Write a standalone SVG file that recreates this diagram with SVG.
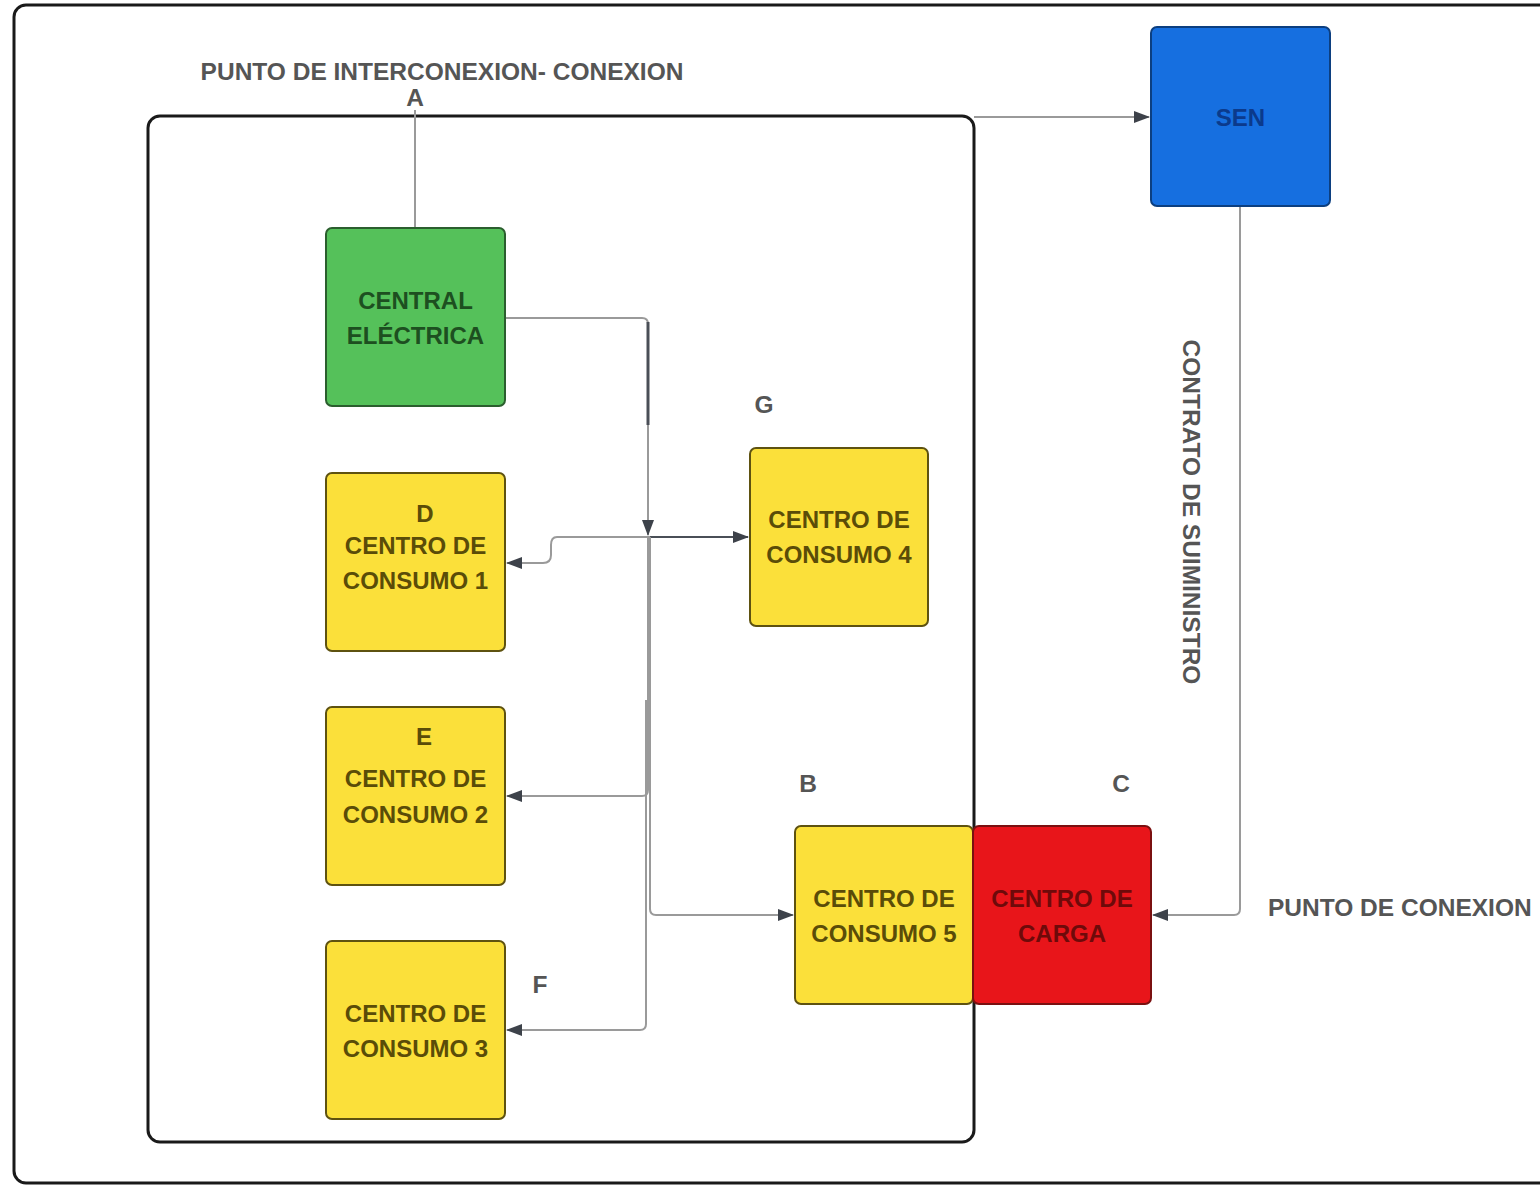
<svg xmlns="http://www.w3.org/2000/svg" width="1540" height="1186" viewBox="0 0 1540 1186">
  <defs>
    <style>
      .frame { fill: none; stroke: #1a1a1a; stroke-width: 3; }
      .node rect { stroke-width: 2; }
      .node text { font-family: "Liberation Sans", Arial, sans-serif; font-weight: bold; font-size: 24px; text-anchor: middle; }
      .yellow rect { fill: #fbe03a; stroke: #5e5210; }
      .yellow text { fill: #5a4c08; }
      .label { font-family: "Liberation Sans", Arial, sans-serif; font-weight: bold; font-size: 24.5px; fill: #555; }
      .conn { fill: none; stroke: #9a9a9a; stroke-width: 2; }
      .conn.dark { stroke: #4a4f57; }
    </style>
    <marker id="arrowL" viewBox="0 0 16 12" refX="15" refY="6" markerWidth="16" markerHeight="12" markerUnits="userSpaceOnUse" orient="auto">
      <path d="M0,0 L16,6 L0,12 z" fill="#3d424a"/>
    </marker>
  </defs>

  <rect width="1540" height="1186" fill="#ffffff"/>

  <!-- frames -->
  <rect class="frame" x="14" y="5" width="1560" height="1178" rx="12"/>
  <rect class="frame" x="148" y="116" width="826" height="1026" rx="12"/>

  <!-- connectors -->
  <g id="connectors">
    <path class="conn" d="M415,110 V228"/>
    <path class="conn" d="M974,117 H1149" marker-end="url(#arrowL)"/>
    <path class="conn" d="M1240,206 V909 Q1240,915 1234,915 H1153" marker-end="url(#arrowL)"/>
    <path class="conn" d="M505,318 H642 Q648,318 648,324 V535" marker-end="url(#arrowL)"/>
    <path class="conn dark" d="M648,322 V425" style="stroke-width:3"/>
    <path class="conn dark" d="M650,537 H748" marker-end="url(#arrowL)"/>
    <path class="conn" d="M650,537 H557 Q551,537 551,545 V555 Q551,563 543,563 H507" marker-end="url(#arrowL)"/>
    <path class="conn" d="M648,537 V790 Q648,796 642,796 H507" marker-end="url(#arrowL)"/>
    <path class="conn" d="M650,537 V909 Q650,915 656,915 H793" marker-end="url(#arrowL)"/>
    <path class="conn" d="M646,700 V1024 Q646,1030 640,1030 H507" marker-end="url(#arrowL)"/>
  </g>

  <!-- nodes -->
  <g id="central" class="node">
    <rect x="326" y="228" width="179" height="178" rx="6" fill="#55c15a" stroke="#2b5e2e"/>
    <text x="415.5" y="309" fill="#1d4f20">CENTRAL</text>
    <text x="415.5" y="344" fill="#1d4f20">ELÉCTRICA</text>
  </g>
  <g id="cc1" class="node yellow">
    <rect x="326" y="473" width="179" height="178" rx="6"/>
    <text x="425" y="522">D</text>
    <text x="415.5" y="554">CENTRO DE</text>
    <text x="415.5" y="589">CONSUMO 1</text>
  </g>
  <g id="cc2" class="node yellow">
    <rect x="326" y="707" width="179" height="178" rx="6"/>
    <text x="424" y="745">E</text>
    <text x="415.5" y="787">CENTRO DE</text>
    <text x="415.5" y="823">CONSUMO 2</text>
  </g>
  <g id="cc3" class="node yellow">
    <rect x="326" y="941" width="179" height="178" rx="6"/>
    <text x="415.5" y="1022">CENTRO DE</text>
    <text x="415.5" y="1057">CONSUMO 3</text>
  </g>
  <g id="cc4" class="node yellow">
    <rect x="750" y="448" width="178" height="178" rx="6"/>
    <text x="839" y="528">CENTRO DE</text>
    <text x="839" y="563">CONSUMO 4</text>
  </g>
  <g id="cc5" class="node yellow">
    <rect x="795" y="826" width="178" height="178" rx="6"/>
    <text x="884" y="907">CENTRO DE</text>
    <text x="884" y="942">CONSUMO 5</text>
  </g>
  <g id="carga" class="node">
    <rect x="973" y="826" width="178" height="178" rx="6" fill="#e8151a" stroke="#7a1010"/>
    <text x="1062" y="907" fill="#6e0a0a">CENTRO DE</text>
    <text x="1062" y="942" fill="#6e0a0a">CARGA</text>
  </g>
  <g id="sen" class="node">
    <rect x="1151" y="27" width="179" height="179" rx="6" fill="#166fe0" stroke="#0c3f80"/>
    <text x="1240.5" y="126" fill="#0b3a8c">SEN</text>
  </g>

  <!-- labels -->
  <g id="labels">
    <text class="label" x="442" y="80" text-anchor="middle">PUNTO DE INTERCONEXION- CONEXION</text>
    <text class="label" x="415" y="106" text-anchor="middle">A</text>
    <text class="label" x="764" y="413" text-anchor="middle">G</text>
    <text class="label" x="808" y="792" text-anchor="middle">B</text>
    <text class="label" x="1121" y="792" text-anchor="middle">C</text>
    <text class="label" x="540" y="993" text-anchor="middle">F</text>
    <text class="label" x="1268" y="916">PUNTO DE CONEXION</text>
    <text class="label" transform="translate(1183,512) rotate(90)" text-anchor="middle">CONTRATO DE SUIMINISTRO</text>
  </g>
</svg>
